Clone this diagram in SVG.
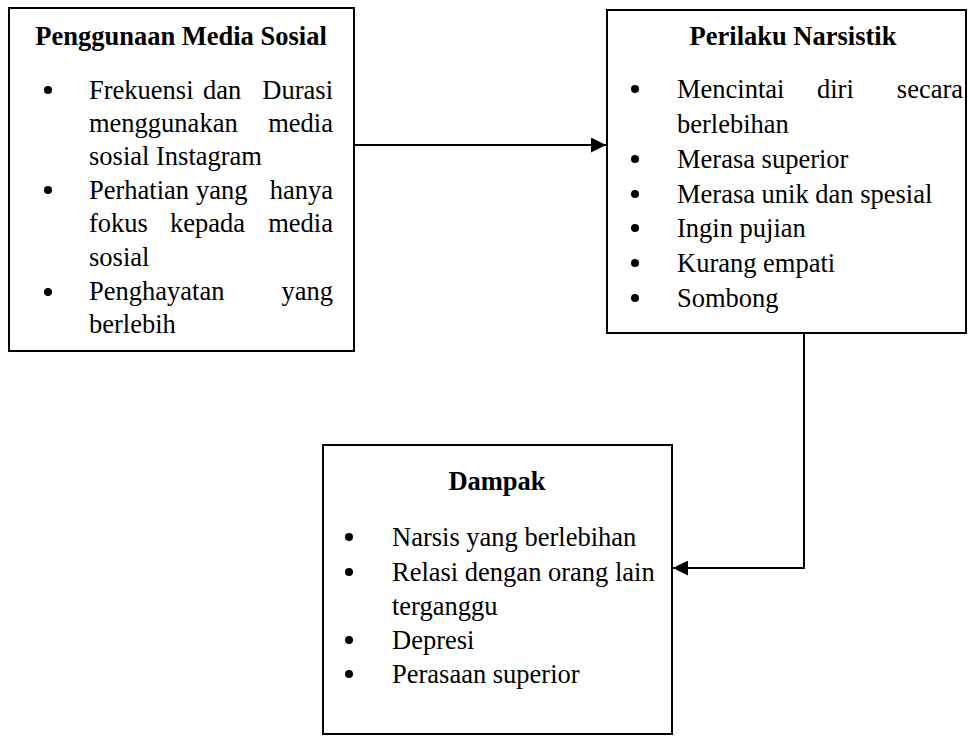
<svg xmlns="http://www.w3.org/2000/svg" width="968" height="736" viewBox="0 0 968 736">
<style>
.box{fill:#fff;stroke:#000;stroke-width:2}
.t{font-family:"Liberation Serif","Times New Roman",serif;font-size:26.5px;fill:#000}
.h{font-weight:bold;text-anchor:middle}
.e{text-anchor:end}
.b{fill:#000}
.c{fill:none;stroke:#000;stroke-width:2}
</style>
<defs>
<marker id="arr" viewBox="0 0 10 10" refX="10" refY="5" markerWidth="15" markerHeight="15" markerUnits="userSpaceOnUse" orient="auto">
<path d="M0,0 L10,5 L0,10 z" fill="#000"/>
</marker>
</defs>
<rect width="968" height="736" fill="#fff"/>
<g id="connectors">
<line class="c" x1="354" y1="145" x2="606" y2="145" marker-end="url(#arr)"/>
<polyline class="c" points="804,333 804,568 673,568" marker-end="url(#arr)"/>
</g>
<g id="penggunaan">
<rect class="box" x="9" y="8" width="345" height="343"/>
<text class="t h" x="181" y="45">Penggunaan Media Sosial</text>
<circle class="b" cx="48" cy="90" r="4"/>
<circle class="b" cx="48" cy="190" r="4"/>
<circle class="b" cx="48" cy="292" r="4"/>
<text class="t" x="89" y="99">Frekuensi</text><text class="t" x="203" y="99">dan</text><text class="t e" x="333" y="99">Durasi</text>
<text class="t" x="89" y="132">menggunakan</text><text class="t e" x="333" y="132">media</text>
<text class="t" x="89" y="165">sosial Instagram</text>
<text class="t" x="89" y="199">Perhatian</text><text class="t" x="196" y="199">yang</text><text class="t e" x="333" y="199">hanya</text>
<text class="t" x="89" y="232">fokus</text><text class="t" x="170" y="232">kepada</text><text class="t e" x="333" y="232">media</text>
<text class="t" x="89" y="266">sosial</text>
<text class="t" x="89" y="300">Penghayatan</text><text class="t e" x="333" y="300">yang</text>
<text class="t" x="89" y="333">berlebih</text>
</g>
<g id="perilaku">
<rect class="box" x="607" y="10" width="359" height="323"/>
<text class="t h" x="793" y="45">Perilaku Narsistik</text>
<circle class="b" cx="635" cy="89" r="4"/>
<circle class="b" cx="635" cy="159" r="4"/>
<circle class="b" cx="635" cy="194" r="4"/>
<circle class="b" cx="635" cy="228" r="4"/>
<circle class="b" cx="635" cy="263" r="4"/>
<circle class="b" cx="635" cy="298" r="4"/>
<text class="t" x="677" y="98">Mencintai</text><text class="t" x="817" y="98">diri</text><text class="t e" x="963" y="98">secara</text>
<text class="t" x="677" y="133">berlebihan</text>
<text class="t" x="677" y="168">Merasa superior</text>
<text class="t" x="677" y="203">Merasa unik dan spesial</text>
<text class="t" x="677" y="237">Ingin pujian</text>
<text class="t" x="677" y="272">Kurang empati</text>
<text class="t" x="677" y="307">Sombong</text>
</g>
<g id="dampak">
<rect class="box" x="323" y="445" width="349" height="289"/>
<text class="t h" x="497" y="490">Dampak</text>
<circle class="b" cx="349" cy="537" r="4"/>
<circle class="b" cx="349" cy="572" r="4"/>
<circle class="b" cx="349" cy="640" r="4"/>
<circle class="b" cx="349" cy="674" r="4"/>
<text class="t" x="392" y="546">Narsis yang berlebihan</text>
<text class="t" x="392" y="581">Relasi dengan orang lain</text>
<text class="t" x="392" y="615">terganggu</text>
<text class="t" x="392" y="649">Depresi</text>
<text class="t" x="392" y="683">Perasaan superior</text>
</g>
</svg>
